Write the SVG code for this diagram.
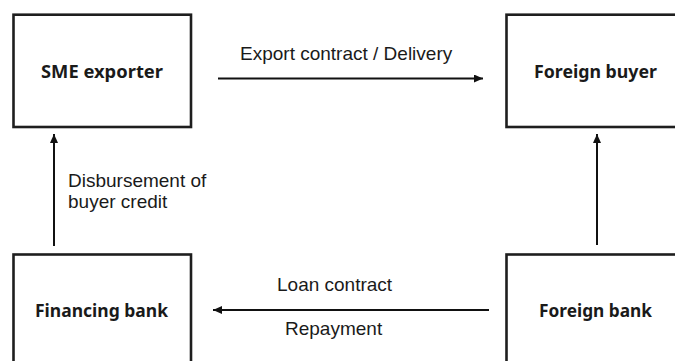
<svg xmlns="http://www.w3.org/2000/svg" width="675" height="361" viewBox="0 0 675 361">
  <style>
    .box { fill: #ffffff; stroke: #1e1e1e; stroke-width: 2.6; }
    .name { font-family: "Noto Sans", "Open Sans", sans-serif; font-weight: 700; font-size: 17.5px; fill: #1a1a1a; text-anchor: middle; }
    .lbl { font-family: "Liberation Sans", Arial, sans-serif; font-size: 19px; fill: #1a1a1a; }
    .flow { stroke: #111111; stroke-width: 2; fill: none; marker-end: url(#head); }
  </style>
  <defs>
    <marker id="head" markerUnits="userSpaceOnUse" markerWidth="9" markerHeight="8" viewBox="0 0 9 8" refX="9" refY="4" orient="auto">
      <path d="M0,0 L9,4 L0,8 Z" fill="#111111"/>
    </marker>
  </defs>
  <rect width="675" height="361" fill="#ffffff"/>

  <g id="sme-exporter">
    <rect class="box" x="13.5" y="14.7" width="177.5" height="112.3"/>
    <text class="name" x="102" y="77.5" textLength="122" lengthAdjust="spacingAndGlyphs">SME exporter</text>
  </g>

  <g id="foreign-buyer">
    <rect class="box" x="506.5" y="14.7" width="180" height="112.3"/>
    <text class="name" x="595.5" y="77.5" textLength="123" lengthAdjust="spacingAndGlyphs">Foreign buyer</text>
  </g>

  <g id="financing-bank">
    <rect class="box" x="13.5" y="254.5" width="177.5" height="120"/>
    <text class="name" x="101.5" y="317" textLength="133" lengthAdjust="spacingAndGlyphs">Financing bank</text>
  </g>

  <g id="foreign-bank">
    <rect class="box" x="506.5" y="254.5" width="180" height="120"/>
    <text class="name" x="595.5" y="317" textLength="113" lengthAdjust="spacingAndGlyphs">Foreign bank</text>
  </g>

  <g id="connectors">
    <line class="flow" x1="218" y1="78.5" x2="483" y2="78.5"/>
    <line class="flow" x1="489" y1="310" x2="213" y2="310"/>
    <line class="flow" x1="54" y1="246" x2="54" y2="134"/>
    <line class="flow" x1="597" y1="245" x2="597" y2="134"/>
  </g>

  <g id="labels">
    <text class="lbl" x="240" y="60">Export contract / Delivery</text>
    <text class="lbl" x="277" y="291">Loan contract</text>
    <text class="lbl" x="285" y="335">Repayment</text>
    <text class="lbl" x="68" y="187">Disbursement of</text>
    <text class="lbl" x="68" y="208">buyer credit</text>
  </g>
</svg>
